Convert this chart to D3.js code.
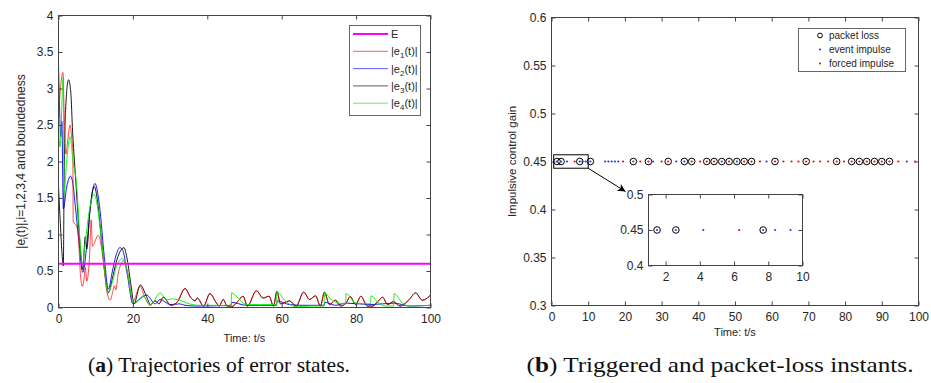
<!DOCTYPE html>
<html>
<head>
<meta charset="utf-8">
<script src="https://cdn.jsdelivr.net/npm/d3@7"></script>
<style>
  body { margin: 0; background: #fff; }
  svg { display: block; }
  text { font-family: "Liberation Sans", Arial, sans-serif; fill: #262626; }
</style>
</head>
<body>
<script>
// ---- data: (a) error trajectories, [t, value] pairs
const boundE = 0.6;
const e1 = [[0,2.62],[0.3,2.85],[1.2,3.22],[1.5,2.7],[2.0,2.1],[2.5,2.3],[3.1,2.5],[3.6,2.3],[3.85,2.15],[3.95,1.18],
  [4.9,1.11],[5.3,1.0],[5.9,0.45],[6.4,0.29],[6.8,0.36],[7.2,0.55],[7.6,0.36],[8.3,0.66],[8.8,1.2],[9.1,0.84],
  [10.7,0.99],[12.0,0.66],[13.0,0.22],[13.9,0.1],[14.6,0.22],[15.0,0.3],[15.4,0.24],[16.0,0.45],[17.5,0.64],
  [18.7,0.45],[20.0,0.08],[21.9,0.29],[23.2,0.14],[24.6,0.03],[26.0,0.09]];
const e2 = [[0,3.34],[0.3,2.7],[0.6,2.34],[0.9,2.55],[1.3,1.35],[2.2,1.65],[3.2,1.8],[3.8,1.72],[4.5,1.4],[5.5,0.9],
  [6.5,0.48],[7.5,0.8],[8.5,1.35],[9.8,1.7],[11,1.4],[12.3,0.7],[13.4,0.25],[14.5,0.5],[15.5,0.72],[16.5,0.82],
  [17.3,0.78],[18.5,0.45],[20,0.05],[21.5,0.1],[23.7,0.17],[26,0.05],[27.3,0.11],[30,0.04],[32.6,0.05],[34,0.03],
  [37,0.02],[46.4,0.03],[46.6,0.07],[50.5,0.03],[54,0.03],[58.6,0.03],[58.8,0.09],[62.1,0.04],[66,0.03],[71.4,0.03],
  [71.6,0.07],[74.5,0.03],[77.3,0.06],[84,0.04],[90.2,0.06],[94.3,0.02],[100,0.03]];
const e3 = [[0,1.65],[0.5,1.15],[1.0,0.7],[1.3,0.57],[1.5,1.7],[1.9,2.7],[2.7,3.12],[3.3,2.95],[3.8,2.4],[4.3,2.0],
  [5.0,1.45],[5.8,0.85],[6.5,0.52],[7.2,0.97],[7.6,0.8],[8.5,1.35],[9.6,1.66],[10.5,1.45],[11.5,0.95],[12.5,0.45],
  [13.4,0.2],[14.5,0.4],[15.5,0.62],[16.5,0.76],[17.6,0.82],[18.5,0.65],[19.5,0.3],[20.3,0.05],[22.0,0.31],
  [23.5,0.17],[24.8,0.04],[26.0,0.09]];
// after t = 26 |e1| and |e3| run on top of each other
const e13tail = [[27.0,0.05],[28.2,0.14],[30.2,0.03],[32.0,0.08],[34.0,0.26],[35.5,0.14],[36.7,0.09],[37.3,0.13],
  [39.0,0.02],[40.7,0.19],[42.5,0.06],[43.2,0.02],[44.3,0.11],[45.3,0.02],[46.5,0.01],[48.3,0.09],[49.6,0.155],
  [50.8,0.02],[53.2,0.23],[55.0,0.13],[56.6,0.155],[57.8,0.02],[58.7,0.22],[59.7,0.05],[62.1,0.09],[63.9,0.02],
  [65.9,0.21],[67.5,0.11],[69.1,0.16],[70.4,0.02],[71.5,0.21],[72.8,0.04],[74.5,0.1],[75.8,0.02],[77.3,0.06],
  [78.4,0.15],[79.9,0.04],[81.3,0.155],[83.0,0.02],[84.5,0.02],[85.8,0.08],[87.1,0.14],[88.5,0.04],[90.0,0.08],
  [91.8,0.02],[94.3,0.11],[96.0,0.2],[97.8,0.1],[100,0.17]];
const e4 = [[0,2.48],[0.4,2.2],[1.3,3.16],[1.5,1.57],[2.2,2.0],[3.1,2.34],[3.9,2.0],[4.9,1.66],[5.8,0.9],[6.4,0.57],
  [7.0,0.8],[8.2,1.3],[9.6,1.55],[10.4,1.4],[11.5,0.95],[12.5,0.45],[13.3,0.21],[14.5,0.35],[15.5,0.55],[17.2,0.67],
  [18.5,0.5],[19.6,0.15],[20.5,0.06],[22.8,0.16],[24.6,0.03],[27.4,0.2],[29,0.1],[30.4,0.12],[32.6,0.1],[34.5,0.06],
  [38,0.03],[43,0.03],[46.4,0.02],[46.5,0.2],[48.3,0.13],[50.5,0.04],[54,0.04],[58.6,0.04],[58.7,0.21],[61,0.09],
  [63.9,0.01],[68,0.02],[71.4,0.02],[71.5,0.2],[73.7,0.09],[77.2,0.05],[77.3,0.19],[79.9,0.06],[83.9,0.05],
  [84,0.16],[86.3,0.05],[88,0.02],[90.1,0.02],[90.2,0.19],[92.5,0.06],[94.3,0.02],[100,0.03]];

// ---- data: (b) impulse instants (t/s), gain 0.45
const gain = 0.45;
const eventTimes = [1.5,2.6,4.2,7.7,8.4,9.3,10.6,14.6,15.5,16.4,17.3,18.2,22.3,27.7,34.0,36.2,46.4,50.5,58.6,96.8];
const forcedTimes = [6.3,19.5,24.2,26.4,30.0,31.8,38.2,40.5,42.3,44.3,48.4,52.5,54.5,56.8,60.9,63.2,65.4,67.3,
  69.4,71.4,73.2,75.4,77.7,79.7,81.8,83.9,85.9,88.0,90.0,92.1,94.5,99.1];
const lossTimes = [1.5,2.6,7.7,10.6,22.3,26.4,31.8,36.2,38.2,42.3,44.3,46.4,48.4,50.5,52.5,54.5,60.9,69.4,77.7,
  81.8,83.9,85.9,88.0,90.0,92.1];

const xTicksA = [0,20,40,60,80,100];
const yTicksA = [0,0.5,1,1.5,2,2.5,3,3.5,4];
const xTicksB = [0,10,20,30,40,50,60,70,80,90,100];
const yTicksB = [0.3,0.35,0.4,0.45,0.5,0.55,0.6];
const xTicksIn = [2,4,6,8,10];
const yTicksIn = [0.4,0.45,0.5];

const svg = d3.select("body").append("svg").attr("width", 931).attr("height", 383);
const fmt = d3.format("~g");

function frame(g, x, y, xt, yt, fs) {
  const [x0, x1] = x.range(), [y1, y0] = y.range();
  g.append("g").attr("transform", `translate(0,${y1})`)
    .call(d3.axisBottom(x).tickValues(xt).tickFormat(fmt).tickSizeInner(-4).tickSizeOuter(0).tickPadding(7));
  g.append("g").attr("transform", `translate(0,${y0})`)
    .call(d3.axisTop(x).tickValues(xt).tickFormat("").tickSizeInner(-4).tickSizeOuter(0));
  g.append("g").attr("transform", `translate(${x0},0)`)
    .call(d3.axisLeft(y).tickValues(yt).tickFormat(fmt).tickSizeInner(-4).tickSizeOuter(0).tickPadding(5));
  g.append("g").attr("transform", `translate(${x1},0)`)
    .call(d3.axisRight(y).tickValues(yt).tickFormat("").tickSizeInner(-4).tickSizeOuter(0));
  g.selectAll(".domain").remove();
  g.selectAll(".tick line").attr("stroke", "#444");
  g.selectAll(".tick text").attr("font-size", fs).attr("fill", "#3a3a3a")
    .attr("font-family", "Liberation Sans, Arial, sans-serif");
  g.append("rect").attr("x", x0).attr("y", y0).attr("width", x1 - x0).attr("height", y1 - y0)
    .attr("fill", "none").attr("stroke", "#444").attr("stroke-width", 1);
}

// ================= (a)
const xA = d3.scaleLinear().domain([0, 100]).range([58.5, 430.5]);
const yA = d3.scaleLinear().domain([0, 4]).range([307.5, 15.5]);
const gA = svg.append("g");
gA.append("clipPath").attr("id", "clipA").append("rect")
  .attr("x", 58.5).attr("y", 15.5).attr("width", 372).attr("height", 292);
const line = d3.line().x(d => xA(d[0])).y(d => yA(d[1])).curve(d3.curveMonotoneX);
const plotA = gA.append("g").attr("clip-path", "url(#clipA)");
const curves = [
  { pts: e2, color: "#0000ff", op: 1 },
  { pts: e3.concat(e13tail), color: "#000000", op: 1 },
  { pts: e1.concat(e13tail), color: "#ff0000", op: 0.8 },
  { pts: e4, color: "#00ee00", op: 1 }
];
plotA.selectAll("path.e").data(curves).join("path").attr("class", "e")
  .attr("d", d => line(d.pts)).attr("fill", "none").attr("stroke", d => d.color)
  .attr("stroke-opacity", d => d.op).attr("stroke-width", 0.9);
plotA.append("line").attr("x1", xA(0)).attr("x2", xA(100)).attr("y1", yA(boundE)).attr("y2", yA(boundE))
  .attr("stroke", "#ff00ff").attr("stroke-width", 2);
frame(gA, xA, yA, xTicksA, yTicksA, 12);

gA.append("text").attr("x", (xA(0) + xA(100)) / 2).attr("y", 342).attr("text-anchor", "middle")
  .attr("font-size", 11).text("Time: t/s");
const ylab = gA.append("text").attr("transform", `translate(25,${(yA(0) + yA(4)) / 2}) rotate(-90)`)
  .attr("text-anchor", "middle").attr("font-size", 12);
ylab.append("tspan").text("|e");
ylab.append("tspan").attr("font-size", 8).attr("dy", 3).text("i");
ylab.append("tspan").attr("dy", -3).text("(t)|,i=1,2,3,4 and boundedness");

// legend (a)
const legA = gA.append("g");
legA.append("rect").attr("x", 349.5).attr("y", 25.5).attr("width", 71).attr("height", 90)
  .attr("fill", "#fff").attr("stroke", "#666");
const legItems = [
  { c: "#ff00ff", w: 2, s: null, n: "E" },
  { c: "#ff0000", w: 0.9, s: "1" },
  { c: "#0000ff", w: 0.9, s: "2" },
  { c: "#000000", w: 0.9, s: "3" },
  { c: "#00ee00", w: 0.9, s: "4" }
];
legItems.forEach((d, i) => {
  const yy = 34 + i * 17.3;
  legA.append("line").attr("x1", 353).attr("x2", 388).attr("y1", yy).attr("y2", yy)
    .attr("stroke", d.c).attr("stroke-width", d.w).attr("opacity", d.s ? 0.7 : 1);
  const t = legA.append("text").attr("x", 391).attr("y", yy + 4).attr("font-size", 11);
  if (!d.s) { t.text(d.n); return; }
  t.append("tspan").text("|e");
  t.append("tspan").attr("font-size", 8).attr("dy", 3).text(d.s);
  t.append("tspan").attr("dy", -3).text("(t)|");
});

// ================= (b)
const xB = d3.scaleLinear().domain([0, 100]).range([551.5, 918.5]);
const yB = d3.scaleLinear().domain([0.3, 0.6]).range([305.5, 17.5]);
const gB = svg.append("g");
frame(gB, xB, yB, xTicksB, yTicksB, 12);

function marks(g, x, y, xmin, xmax) {
  const inR = t => t >= xmin && t <= xmax;
  g.selectAll("circle.loss").data(lossTimes.filter(inR)).join("circle").attr("class", "loss")
    .attr("cx", d => x(d)).attr("cy", y(gain)).attr("r", 3.3)
    .attr("fill", "none").attr("stroke", "#000").attr("stroke-width", 1);
  g.selectAll("circle.ev").data(eventTimes.filter(inR)).join("circle").attr("class", "ev")
    .attr("cx", d => x(d)).attr("cy", y(gain)).attr("r", 1.1).attr("fill", "#1f3fe0");
  g.selectAll("circle.fo").data(forcedTimes.filter(inR)).join("circle").attr("class", "fo")
    .attr("cx", d => x(d)).attr("cy", y(gain)).attr("r", 1.1).attr("fill", "#ff0000");
}
marks(gB.append("g"), xB, yB, 0, 100);

gB.append("text").attr("x", (xB(0) + xB(100)) / 2).attr("y", 336).attr("text-anchor", "middle")
  .attr("font-size", 11).text("Time: t/s");
gB.append("text").attr("transform", `translate(516,${(yB(0.3) + yB(0.6)) / 2}) rotate(-90)`)
  .attr("text-anchor", "middle").attr("font-size", 11.5).text("Impulsive control gain");

// zoom box + arrow
const zx = [0.6, 10], zy = [0.443, 0.457];
gB.append("rect").attr("x", xB(zx[0])).attr("y", yB(zy[1]))
  .attr("width", xB(zx[1]) - xB(zx[0])).attr("height", yB(zy[0]) - yB(zy[1]))
  .attr("fill", "none").attr("stroke", "#000").attr("stroke-width", 1);

// inset
const xI = d3.scaleLinear().domain([1, 10]).range([648.5, 802.5]);
const yI = d3.scaleLinear().domain([0.4, 0.5]).range([265.5, 194.5]);
svg.append("defs").append("marker").attr("id", "ah").attr("viewBox", "0 0 10 10")
  .attr("refX", 10).attr("refY", 5).attr("markerWidth", 10).attr("markerHeight", 8)
  .attr("markerUnits", "userSpaceOnUse").attr("orient", "auto")
  .append("path").attr("d", "M0,0 L10,5 L0,10 L3,5 Z").attr("fill", "#000");
gB.append("line").attr("x1", xB(zx[1])).attr("y1", yB(zy[0]))
  .attr("x2", xI(1) - 23).attr("y2", yI(0.5) - 3)
  .attr("stroke", "#000").attr("stroke-width", 1).attr("marker-end", "url(#ah)");
const gI = gB.append("g");
gI.append("rect").attr("x", 648.5).attr("y", 194.5).attr("width", 154).attr("height", 71).attr("fill", "#fff");
marks(gI.append("g"), xI, yI, 1, 10);
frame(gI, xI, yI, xTicksIn, yTicksIn, 12);

// legend (b)
const legB = gB.append("g");
legB.append("rect").attr("x", 798.5).attr("y", 28.5).attr("width", 107).attr("height", 43)
  .attr("fill", "#fff").attr("stroke", "#666");
legB.append("circle").attr("cx", 820).attr("cy", 35.5).attr("r", 2.4).attr("fill", "none").attr("stroke", "#000");
legB.append("circle").attr("cx", 820).attr("cy", 49.5).attr("r", 1.1).attr("fill", "#1f3fe0");
legB.append("circle").attr("cx", 820).attr("cy", 63.5).attr("r", 1.1).attr("fill", "#ff0000");
[["packet loss", 35.5], ["event impulse", 49.5], ["forced impulse", 63.5]].forEach(([s, yy]) => {
  legB.append("text").attr("x", 829).attr("y", yy + 3.5).attr("font-size", 10).text(s);
});

// captions
function caption(x, len, letter, rest) {
  const t = svg.append("text").attr("x", x).attr("y", 372)
    .attr("text-anchor", "middle").attr("font-size", 22)
    .attr("textLength", len).attr("lengthAdjust", "spacingAndGlyphs")
    .style("font-family", "'Liberation Serif', 'Times New Roman', serif").style("fill", "#111");
  t.append("tspan").text("(");
  t.append("tspan").attr("font-weight", "bold").text(letter);
  t.append("tspan").text(")" + rest);
}
caption(219, 262, "a", " Trajectories of error states.");
caption(720, 387, "b", " Triggered and packet-loss instants.");
</script>
</body>
</html>
